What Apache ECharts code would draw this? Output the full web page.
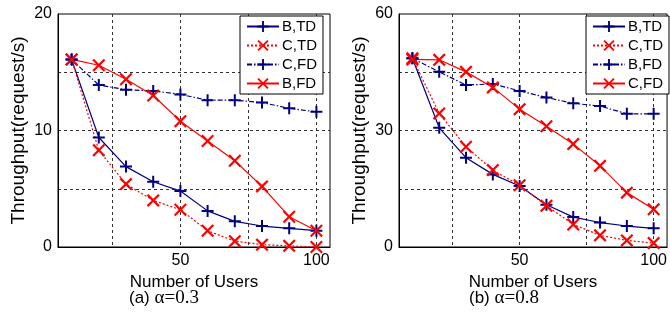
<!DOCTYPE html>
<html>
<head>
<meta charset="utf-8">
<script src="https://cdn.jsdelivr.net/npm/echarts@6/dist/echarts.min.js"></script>
<style>
  html, body { margin: 0; padding: 0; background: #fff; }
  #main { width: 670px; height: 314px; }
</style>
</head>
<body>
<div id="main"></div>
<script>
var users = [10, 20, 30, 40, 50, 60, 70, 80, 90, 100];

// (a) alpha = 0.3
var aBTD = [16.1, 9.4, 6.9, 5.6, 4.8, 3.1, 2.2, 1.8, 1.6, 1.4];
var aCTD = [16.1, 8.3, 5.4, 4.0, 3.2, 1.4, 0.5, 0.2, 0.1, 0.0];
var aCFD = [16.1, 13.9, 13.5, 13.4, 13.1, 12.6, 12.6, 12.4, 11.9, 11.6];
var aBFD = [16.1, 15.6, 14.4, 13.0, 10.8, 9.1, 7.4, 5.2, 2.6, 1.4];

// (b) alpha = 0.8
var bBTD = [48.6, 30.7, 23.0, 18.7, 15.7, 10.9, 7.7, 6.3, 5.4, 4.8];
var bCTD = [48.6, 34.4, 25.8, 19.8, 15.9, 10.6, 5.8, 3.0, 1.7, 1.0];
var bBFD = [48.6, 45.1, 41.7, 42.0, 40.2, 38.5, 37.0, 36.3, 34.3, 34.3];
var bCFD = [48.3, 48.2, 45.1, 41.1, 35.5, 31.1, 26.5, 20.9, 14.0, 9.7];

var xGrid = [25, 50, 75, 100];
var xLabels = [50, 100];

var navy = '#000080';
var red = '#ff0000';
var plus = 'path://M5,0H7V5H12V7H7V12H5V7H0V5H5Z';
var cross = 'path://M0,1.2L1.2,0L5,3.8L8.8,0L10,1.2L6.2,5L10,8.8L8.8,10L5,6.2L1.2,10L0,8.8L3.8,5Z';
var sans = 'Liberation Sans';

function pairs(vals) {
    return users.map(function (u, i) { return [u, vals[i]]; });
}

function mk(name, vals, idx, color, dash, isCross) {
    return {
        name: name,
        type: 'line',
        xAxisIndex: idx,
        yAxisIndex: idx,
        data: pairs(vals),
        symbol: isCross ? cross : plus,
        symbolSize: isCross ? 13 : 12,
        showAllSymbol: true,
        itemStyle: { color: color },
        lineStyle: { color: color, width: 1.2, type: dash },
        animation: false
    };
}

function xAx(idx) {
    return {
        type: 'value', gridIndex: idx, min: 5, max: 105,
        name: 'Number of Users', nameLocation: 'middle', nameGap: 16,
        nameTextStyle: { fontFamily: sans, fontSize: 17, color: '#000' },
        axisLine: { show: true, lineStyle: { color: '#000' } },
        axisTick: { show: false, customValues: xGrid },
        axisLabel: { customValues: xLabels, fontFamily: sans, fontSize: 16, color: '#000', margin: 6 },
        splitLine: { show: true, lineStyle: { color: '#333', type: [3, 3] } }
    };
}

function yAx(idx, max, step) {
    return {
        type: 'value', gridIndex: idx, min: 0, max: max, interval: step,
        name: 'Throughput(request/s)', nameLocation: 'middle', nameGap: 30,
        nameTextStyle: { fontFamily: sans, fontSize: 19, color: '#000' },
        axisLine: { show: true, lineStyle: { color: '#000' } },
        axisTick: { show: false },
        axisLabel: {
            fontFamily: sans, fontSize: 16, color: '#000', margin: 6,
            formatter: function (v) { return v % (step * 2) === 0 ? v : ''; }
        },
        splitLine: { show: true, showMinLine: false, showMaxLine: false, lineStyle: { color: '#333', type: [3, 3] } }
    };
}

function leg(left, names) {
    return {
        left: left, top: 16, orient: 'vertical',
        data: names,
        itemWidth: 32, itemHeight: 14, itemGap: 4,
        padding: [3, 6, 3, 6],
        backgroundColor: '#fff', borderColor: '#000', borderWidth: 1, borderRadius: 0,
        selectedMode: false,
        textStyle: { fontFamily: sans, fontSize: 15, color: '#000', padding: [0, 0, 0, -2] },
        formatter: function (n) { return n.split('#')[0]; }
    };
}

function caption(left, letter, alpha) {
    return {
        left: left, top: 284,
        text: '{s|(' + letter + ') }{t|α=' + alpha + '}',
        textStyle: { fontWeight: 'normal', rich: {
            s: { fontFamily: sans, fontSize: 17, fontWeight: 'normal', color: '#000' },
            t: { fontFamily: 'Liberation Serif', fontSize: 19, fontWeight: 'normal', color: '#000' }
        } }
    };
}

var myChart = echarts.init(document.getElementById('main'));
var option = {
    backgroundColor: '#fff',
    animation: false,
    title: [caption(124, 'a', '0.3'), caption(464, 'b', '0.8')],
    grid: [
        { left: 58, top: 14, width: 272, height: 233, show: true, borderColor: '#000', borderWidth: 1, backgroundColor: '#fff' },
        { left: 399, top: 14, width: 273, height: 233, show: true, borderColor: '#000', borderWidth: 1, backgroundColor: '#fff' }
    ],
    legend: [
        leg(240, ['B,TD', 'C,TD', 'C,FD', 'B,FD']),
        leg(586, ['B,TD#b', 'C,TD#b', 'B,FD#b', 'C,FD#b'])
    ],
    xAxis: [xAx(0), xAx(1)],
    yAxis: [yAx(0, 20, 5), yAx(1, 60, 15)],
    series: [
        mk('B,TD', aBTD, 0, navy, 'solid', false),
        mk('C,TD', aCTD, 0, red, [2, 2], true),
        mk('C,FD', aCFD, 0, navy, [5, 2, 1.5, 2], false),
        mk('B,FD', aBFD, 0, red, 'solid', true),
        mk('B,TD#b', bBTD, 1, navy, 'solid', false),
        mk('C,TD#b', bCTD, 1, red, [2, 2], true),
        mk('B,FD#b', bBFD, 1, navy, [5, 2, 1.5, 2], false),
        mk('C,FD#b', bCFD, 1, red, 'solid', true)
    ]
};
myChart.setOption(option);
</script>
</body>
</html>
